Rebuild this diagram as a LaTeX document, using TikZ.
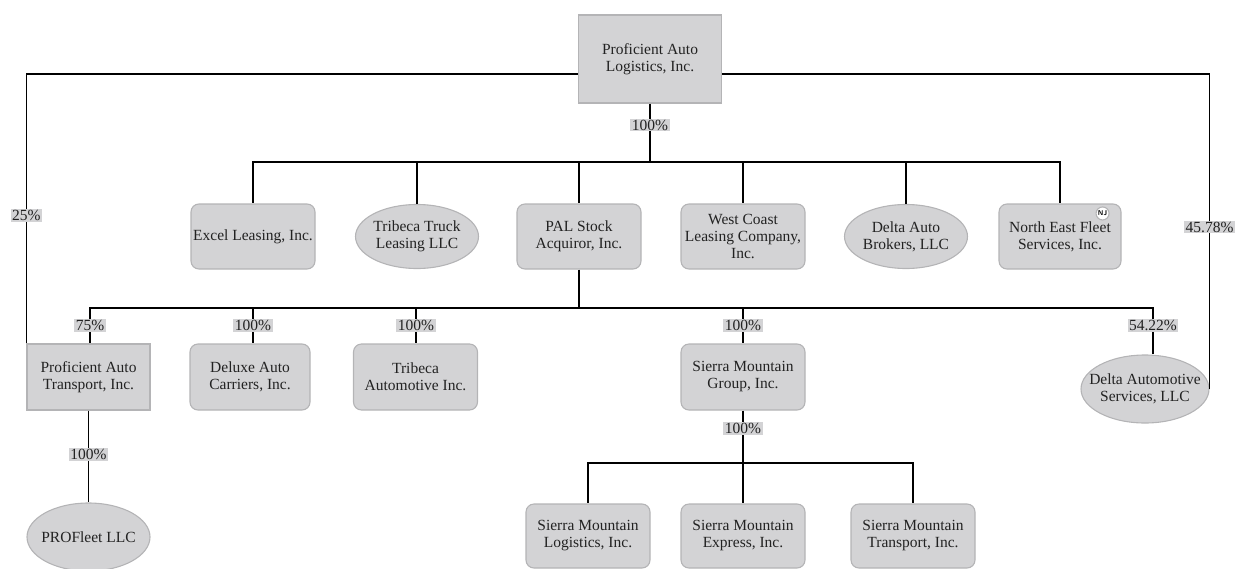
\documentclass[tikz,border=0pt]{standalone}
\usepackage{fontspec}
\setmainfont{Liberation Serif}
\usepackage{tikz}
\usetikzlibrary{positioning,calc,shapes.geometric}

\definecolor{boxgray}{HTML}{D3D3D5}
\definecolor{edgegray}{HTML}{B4B4B6}
\definecolor{inkgray}{HTML}{222222}

\begin{document}
\begin{tikzpicture}[
    x=1pt, y=-1pt,
    corp/.style={draw=edgegray, fill=boxgray, text=inkgray, align=center, inner sep=0pt,
        minimum width=124pt, minimum height=65pt, font=\fontsize{15.5}{17}\selectfont},
    rcorp/.style={corp, rounded corners=8pt},
    llc/.style={corp, ellipse, inner xsep=-14pt, inner ysep=0pt, minimum width=123pt, minimum height=64pt},
    pct/.style={fill=boxgray, text=inkgray, inner xsep=1.5pt, inner ysep=1pt, font=\fontsize{15.5}{17}\selectfont},
    badge/.style={circle, draw=edgegray, fill=white, inner sep=0pt, minimum size=13pt,
        font=\sffamily\bfseries\fontsize{7}{7}\selectfont},
    line width=1.1pt]
  \useasboundingbox (0,0) rectangle (1239,568);
  % parent
  \node[corp, minimum width=143pt, minimum height=88pt] (pal0) at (650,59) {Proficient Auto\\Logistics, Inc.};
  % first tier
  \node[rcorp] (excel) at (253,236.5) {Excel Leasing, Inc.};
  \node[llc]   (ttl)   at (417,236.5) {Tribeca Truck\\Leasing LLC};
  \node[rcorp] (pal)   at (579,236.5) {PAL Stock\\Acquiror, Inc.};
  \node[rcorp] (wcl)   at (743,236.5) {West Coast\\Leasing Company,\\Inc.};
  \node[llc]   (dab)   at (906,236.5) {Delta Auto\\Brokers, LLC};
  \node[rcorp, minimum width=122pt] (nef) at (1060,236.5) {North East Fleet\\Services, Inc.};
  \node[badge] (nj) at ([xshift=-19pt,yshift=-10pt]nef.north east) {NJ};
  % second tier
  \node[corp, minimum width=123pt, minimum height=66pt] (pat) at (88.5,377) {Proficient Auto\\Transport, Inc.};
  \node[rcorp, minimum width=120pt, minimum height=66pt] (dac) at (250,377) {Deluxe Auto\\Carriers, Inc.};
  \node[rcorp, minimum height=66pt] (tai) at (415.5,377) {Tribeca\\Automotive Inc.};
  \node[rcorp, minimum height=66pt] (smg) at (743,377) {Sierra Mountain\\Group, Inc.};
  \node[llc, minimum width=128pt, minimum height=68pt] (das) at (1145,389) {Delta Automotive\\Services, LLC};
  \node[llc, minimum height=68pt] (pfl) at (88.5,537) {PROFleet LLC};
  % third tier
  \node[rcorp, minimum height=64pt] (sml) at (588,536) {Sierra Mountain\\Logistics, Inc.};
  \node[rcorp, minimum height=64pt] (sme) at (743,536) {Sierra Mountain\\Express, Inc.};
  \node[rcorp, minimum height=64pt] (smt) at (913,536) {Sierra Mountain\\Transport, Inc.};
  % bus points
  \coordinate (bus1) at (650,162);
  \coordinate (bus2) at (579,308);
  \coordinate (bus3) at (743,463);
  % ownership lines
  \draw (pal0.south) -- node[pct, pos=.37] {100\%} (bus1);
  \foreach \n in {excel,ttl,pal,wcl,dab,nef} { \draw (bus1) -| (\n.north); }
  \draw ([yshift=-15pt]pal0.west) -| node[pct, pos=.763] {25\%} (pat.north west);
  \draw ([yshift=-15pt]pal0.east) -| node[pct, pos=.743] {45.78\%} (das.east);
  \draw (pal.south) -- (bus2);
  \draw (bus2) -| node[pct, pos=.75] {75\%} ([xshift=1.5pt]pat.north);
  \draw (bus2) -| node[pct, pos=.75] {100\%} ([xshift=3pt]dac.north);
  \draw (bus2) -| node[pct, pos=.75] {100\%} ([xshift=0.5pt]tai.north);
  \draw (bus2) -| node[pct, pos=.75] {100\%} (smg.north);
  \draw (bus2) -| node[pct, pos=.69] {54.22\%} ([xshift=8pt]das.north);
  \draw (pat.south) -- node[pct, pos=.48] {100\%} (pfl.north);
  \draw (smg.south) -- node[pct, pos=.34] {100\%} (bus3);
  \foreach \n in {sml,sme,smt} { \draw (bus3) -| (\n.north); }
\end{tikzpicture}
\end{document}
